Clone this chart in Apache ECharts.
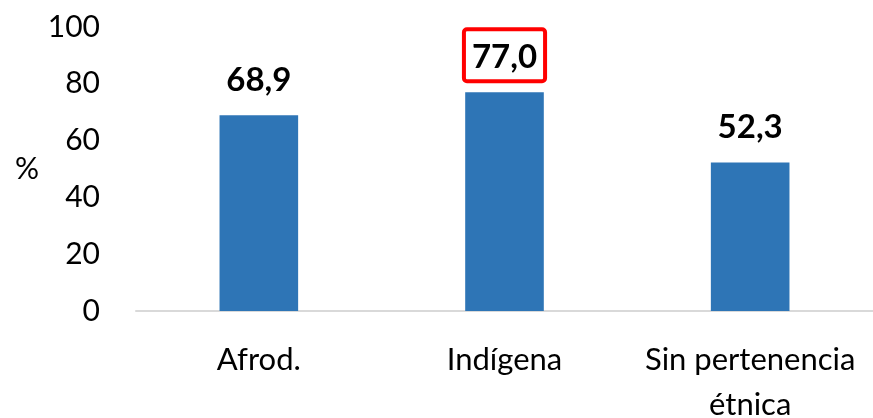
<!DOCTYPE html>
<html>
<head>
<meta charset="utf-8">
<script src="https://cdn.jsdelivr.net/npm/echarts@6/dist/echarts.min.js"></script>
<style>
  html, body { margin: 0; padding: 0; background: #fff; }
  #chart { width: 873px; height: 418px; }
</style>
</head>
<body>
<div id="chart"></div>
<script>
    // datos
    var categories = ['Afrod.', 'Indígena', 'Sin pertenencia\nétnica']
    var values = [68.9, 77.0, 52.3]
    var highlighted = 1   // barra con recuadro rojo

    var font = 'Lato, "Open Sans", sans-serif'

    function fmt(v) {
        return v.toFixed(1).replace('.', ',')
    }

    var seriesData = values.map(function (v, i) {
        var item = { value: v }
        if (i === highlighted) {
            item.label = {
                borderColor: '#ff0000',
                borderWidth: 4,
                borderRadius: 3
            }
        }
        return item
    })

    var option = {
        animation: false,
        grid: {
            left: 136,
            right: 0,
            top: 27,
            bottom: 107,
            outerBoundsMode: 'none'
        },
        xAxis: {
            type: 'category',
            data: categories,
            axisLine: { lineStyle: { color: '#d9d9d9', width: 2 } },
            axisTick: { show: false },
            axisLabel: {
                color: '#000',
                fontFamily: font,
                fontSize: 31,
                lineHeight: 45,
                margin: 26,
                interval: 0
            }
        },
        yAxis: {
            type: 'value',
            min: 0,
            max: 100,
            interval: 20,
            name: '%',
            nameLocation: 'middle',
            nameRotate: 0,
            nameGap: 97,
            nameTextStyle: {
                color: '#000',
                fontFamily: font,
                fontSize: 30,
                padding: [6, 0, 0, 0]
            },
            axisLine: { show: false },
            axisTick: { show: false },
            splitLine: { show: false },
            axisLabel: {
                color: '#000',
                fontFamily: font,
                fontSize: 30,
                margin: 36
            }
        },
        series: [
            {
                type: 'bar',
                data: seriesData,
                barWidth: '32%',
                itemStyle: { color: '#2e75b6' },
                label: {
                    show: true,
                    position: 'top',
                    distance: 11,
                    color: '#000',
                    fontFamily: font,
                    fontWeight: 'bold',
                    fontSize: 33,
                    lineHeight: 36,
                    padding: [10, 8, 6, 8],
                    formatter: function (p) {
                        return fmt(p.value)
                    }
                }
            }
        ]
    }

    echarts.init(document.getElementById('chart')).setOption(option)
</script>
</body>
</html>
